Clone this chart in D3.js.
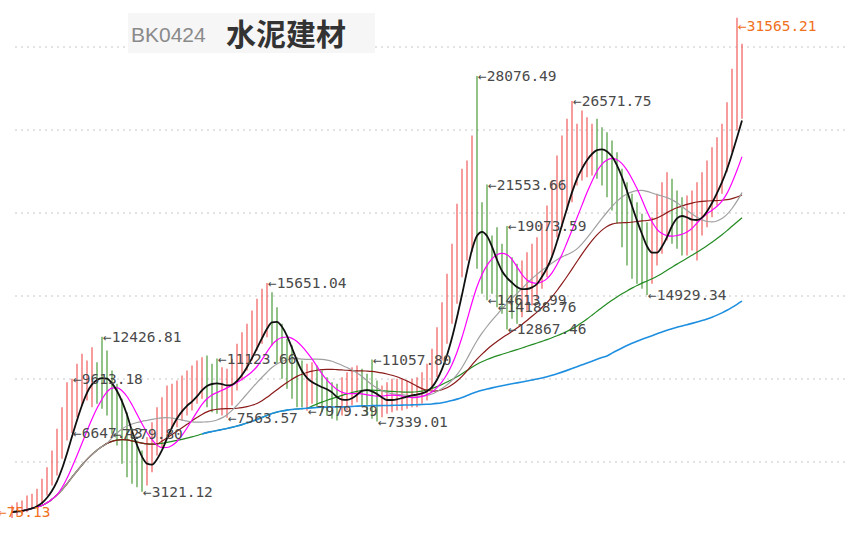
<!DOCTYPE html>
<html><head><meta charset="utf-8">
<script src="https://cdn.jsdelivr.net/npm/d3@7"></script>
<style>body{margin:0;background:#fff}</style></head>
<body><svg id="c" width="854" height="541"></svg>
<script>
const closes=[1911,1971,2031,2271,2451,2571,2931,3591,4371,5271,
6351,7551,8631,9291,9771,10071,10071,9951,9831,9651,
8631,7791,6831,5811,4791,4431,4311,4731,5511,6411,
7131,7851,8031,8211,8511,8811,9111,9591,10011,9831,
9411,9291,9351,9651,10011,10551,11091,11691,12351,13011,
13551,13911,13611,12531,11511,10851,10251,9831,9411,9471,
9591,9411,9111,8811,8511,8211,8631,9051,9291,9531,
9411,8811,8691,8511,8511,8631,8811,8871,8931,8931,
8991,9051,9231,9591,10131,11211,12231,13431,14811,16311,
17931,19311,19851,19011,17511,16671,16131,15891,15651,15471,
15231,14811,15231,15711,15951,16251,17031,17811,19131,20451,
21231,22011,22611,23211,23511,23751,23871,23751,23451,22911,
22191,21231,20271,19251,18411,17811,17211,16611,17331,18411,
19611,20031,19971,19611,19131,19191,19371,19851,20331,20991,
21711,22371,23091,24231,25551,26631,27531];
const highs=[2300,2500,2600,2900,3000,3300,3900,4600,5600,6900,
8200,9700,9900,10800,11400,11000,11800,10900,12426.81,11600,
10400,9600,8700,7900,6900,6200,5600,6400,7300,8200,
8800,9500,9600,9800,10100,10400,10700,11000,11200,11300,
10800,11123.66,10600,10500,11100,12000,12700,13200,14000,14700,
15300,15651.04,15100,14200,13200,12300,11900,11200,11000,10800,
10900,10700,10400,10000,9700,9600,10000,10300,10600,10700,
10500,10200,11057.80,9800,9500,9700,9900,9900,9900,9800,
9900,10000,10300,10800,11700,13000,14500,16200,18000,20400,
22500,23000,24500,28076.49,20500,21553.66,18500,19000,18000,19073.59,
17200,16800,17000,17500,18000,18400,19200,20300,21800,23300,
24500,25500,26571.75,25200,26000,25600,25200,25500,25000,24700,
24200,23500,22500,21700,21000,20500,19800,19300,19600,21000,
21700,22300,21900,21200,20800,20900,21200,21700,22300,23000,
23800,24400,25200,26500,28500,31565.21,30000];
const lows=[1550,1700,1800,1900,2100,2200,2400,2900,3500,4100,
5100,6200,6647.43,7600,8300,8600,8200,8400,8100,7700,
6600,5900,4800,4000,3600,3400,3121.12,3500,4300,5300,
5800,6500,6900,7000,7400,7700,8000,8400,8700,8200,
7900,7800,7700,7563.57,8300,9200,9800,10400,11000,11600,
12000,12400,11900,10800,9900,9300,8700,8200,8200,7979.39,
8400,8200,7900,7700,7500,7400,7700,8000,8300,8500,
8300,7700,7500,7339.01,7600,7800,7900,8000,8000,8100,
8200,8200,8400,8600,9200,10000,11000,12000,13200,14400,
16000,17000,17500,16500,15000,14613.99,15000,14188.76,13800,12867.46,
13500,13200,13600,14000,14300,14700,15300,16000,17200,18400,
19000,20000,20500,21500,21800,22000,22100,21900,21500,20800,
20000,19200,17800,16700,15900,15600,15300,14929.34,15600,16700,
17400,18200,18000,17700,17300,17300,17600,17000,18500,19000,
19600,20300,21000,22300,23500,24800,25500];
const labelIdx=[18,12,12,20,26,41,43,51,59,72,73,93,95,95,97,99,99,112,127];
const labelKind=["h","h","l","l","l","h","l","h","l","h","l","h","h","l","l","h","l","h","l"];
const labelText=["12426.81","9613.18","6647.43","7279.80","3121.12","11123.66","7563.57","15651.04","7979.39","11057.80","7339.01","28076.49","21553.66","14613.99","14188.76","19073.59","12867.46","26571.75","14929.34"];
const gridValues=[29811,24831,19851,14871,9891,4911];
const maPeriods=[5,10,20,30,60];
const maColors=["#111","#ff00ff","#a0a0a0","#8b1a1a","#228b22"];
const longPeriod=120, longStart=38;

const svg=d3.select("#c");
const x=d3.scaleLinear().domain([0,closes.length-1]).range([12,742]);
const y=d3.scaleLinear().domain([0,30000]).range([543.85,43.85]);

svg.selectAll("line.g").data(gridValues).enter().append("line")
 .attr("x1",15).attr("x2",845).attr("y1",d=>y(d)).attr("y2",d=>y(d))
 .attr("stroke","#c8c8c8").attr("stroke-dasharray","2,4");

svg.append("rect").attr("x",128).attr("y",13).attr("width",247).attr("height",40).attr("fill","#f6f6f6");
svg.append("text").attr("x",131).attr("y",42).attr("font-family","Arial, Liberation Sans").attr("font-size",21).attr("fill","#8a8a8a").text("BK0424");
svg.append("text").attr("x",226).attr("y",45).attr("font-family","Noto Sans CJK SC").attr("font-weight","bold").attr("font-size",30).attr("fill","#333").text("水泥建材");

svg.selectAll("line.b").data(closes).enter().append("line")
 .attr("x1",(d,i)=>x(i)).attr("x2",(d,i)=>x(i))
 .attr("y1",(d,i)=>y(highs[i])).attr("y2",(d,i)=>y(lows[i]))
 .attr("stroke",(d,i)=> (i===0||d>=closes[i-1])?"#f05a5a":"#4a9a3a").attr("stroke-width",1.2);

function ma(p){return closes.map((d,i)=>{const s=closes.slice(Math.max(0,i-p+1),i+1);return d3.mean(s);});}
const line=d3.line().x(d=>x(d[0])).y(d=>y(d[1])).curve(d3.curveMonotoneX);
maPeriods.slice().reverse().forEach(p=>{
  const idx=maPeriods.indexOf(p);
  const m=ma(p).map((v,i)=>[i,v]);
  svg.append("path").attr("d",line(m)).attr("fill","none").attr("stroke",maColors[idx]).attr("stroke-width",idx===0?1.8:1.2);
});
const lm=ma(longPeriod).map((v,i)=>[i,v]).filter(d=>d[0]>=longStart);
svg.append("path").attr("d",line(lm)).attr("fill","none").attr("stroke","#1e8fe0").attr("stroke-width",1.6);

labelIdx.forEach((i,k)=>{
  const v=labelKind[k]==="h"?highs[i]:lows[i];
  svg.append("text").attr("x",x(i)+1).attr("y",y(v)).attr("dy","0.35em")
   .attr("font-family","DejaVu Sans Mono").attr("font-size",14.5).attr("fill","#4a4a4a").text("←"+labelText[k]);
});
const topIdx=closes.length-2;
svg.append("text").attr("x",x(topIdx)+1).attr("y",y(highs[topIdx])+8).attr("dy","0.35em")
 .attr("font-family","DejaVu Sans Mono").attr("font-size",14.5).attr("fill","#f07020").text("←31565.21");
svg.append("text").attr("x",-2).attr("y",y(lows[0])-6).attr("dy","0.35em")
 .attr("font-family","DejaVu Sans Mono").attr("font-size",14.5).attr("fill","#f07020").text("←75.13");
</script></body></html>
